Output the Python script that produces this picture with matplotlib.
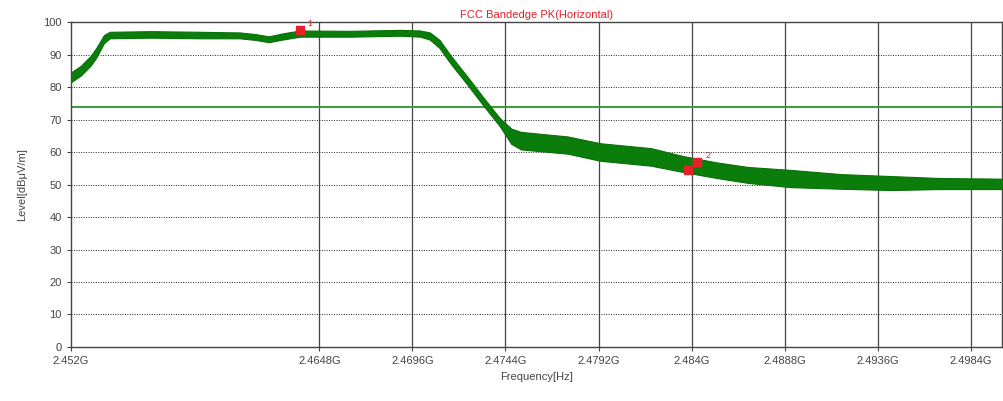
import matplotlib.pyplot as plt
import numpy as np

plt.rcParams['font.family'] = ['Liberation Sans', 'DejaVu Sans']

# trace envelope (GHz, dBuV/m)
freq = [2.4520, 2.4525, 2.4530, 2.4533, 2.4537, 2.4540, 2.4561, 2.4587, 2.4607,
        2.4615, 2.4622, 2.4629, 2.4638, 2.4664, 2.4690, 2.4700, 2.4705, 2.4710,
        2.4716, 2.4724, 2.4733, 2.4741, 2.4747, 2.4752, 2.4776, 2.4793, 2.4819,
        2.4836, 2.4853, 2.4869, 2.4891, 2.4917, 2.4943, 2.4968, 2.5000]
level_lo = [81.5, 83.5, 86.5, 89.0, 93.5, 95.0, 95.2, 95.0, 95.0,
            94.5, 93.8, 94.6, 95.5, 95.5, 95.8, 95.5, 94.6, 92.0,
            87.0, 81.0, 74.0, 68.0, 62.5, 60.8, 59.5, 57.3, 55.8,
            53.8, 52.0, 50.5, 49.2, 48.7, 48.3, 48.6, 48.6]
level_hi = [84.5, 86.5, 89.5, 92.0, 96.0, 97.0, 97.2, 97.0, 96.8,
            96.3, 95.6, 96.5, 97.4, 97.3, 97.6, 97.4, 96.8, 94.5,
            89.5, 83.5, 76.5, 70.5, 67.2, 66.2, 64.8, 62.7, 61.2,
            58.7, 56.8, 55.4, 54.5, 53.2, 52.6, 52.0, 51.8]

limit = 74
marker_f = [2.4638, 2.4838, 2.4843]
marker_l = [97.5, 54.5, 57.0]
marker_txt = ['1', '', '2']

xticks = [2.452, 2.4648, 2.4696, 2.4744, 2.4792, 2.484, 2.4888, 2.4936, 2.4984]
xlabels = ['2.452G', '2.4648G', '2.4696G', '2.4744G', '2.4792G', '2.484G',
           '2.4888G', '2.4936G', '2.4984G']

fig = plt.figure(figsize=(10.04, 4.01), dpi=100)
ax = fig.add_axes([0.0707, 0.1347, 0.9273, 0.8103])

ax.fill_between(freq, level_lo, level_hi, color='#0b7d0b', lw=0.8, edgecolor='#087008', zorder=3)
ax.axhline(limit, color='#3c9c3c', lw=1.4, zorder=2)

ax.plot(marker_f, marker_l, 's', color='#e8202a', ms=6, zorder=4)
for f, l, t in zip(marker_f, marker_l, marker_txt):
    if t:
        ax.text(f + 0.0004, l + 1.2, t, color='#e8202a', fontsize=6.5, zorder=5)

ax.set_xlim(2.452, 2.5)
ax.set_ylim(0, 100)
ax.set_xticks(xticks)
ax.set_xticklabels(xlabels)
ax.set_yticks(np.arange(0, 101, 10))

for x in xticks[1:]:
    ax.axvline(x, color='#444444', lw=0.9, zorder=1)
for y in range(10, 100, 10):
    ax.axhline(y, color='#222222', lw=0.7, ls=(0, (1, 1.5)), zorder=1)

ax.tick_params(labelsize=8, colors='#444444', length=3, width=0.8)
for s in ax.spines.values():
    s.set_color('#444444')
    s.set_linewidth(1.0)

ax.set_title('FCC Bandedge PK(Horizontal)', color='#e8202a', fontsize=8, pad=3)
ax.set_xlabel('Frequency[Hz]', fontsize=8, color='#444444', labelpad=4)
ax.set_ylabel('Level[dBμV/m]', fontsize=8, color='#444444', labelpad=12)

fig.savefig('out.png', dpi=100)
